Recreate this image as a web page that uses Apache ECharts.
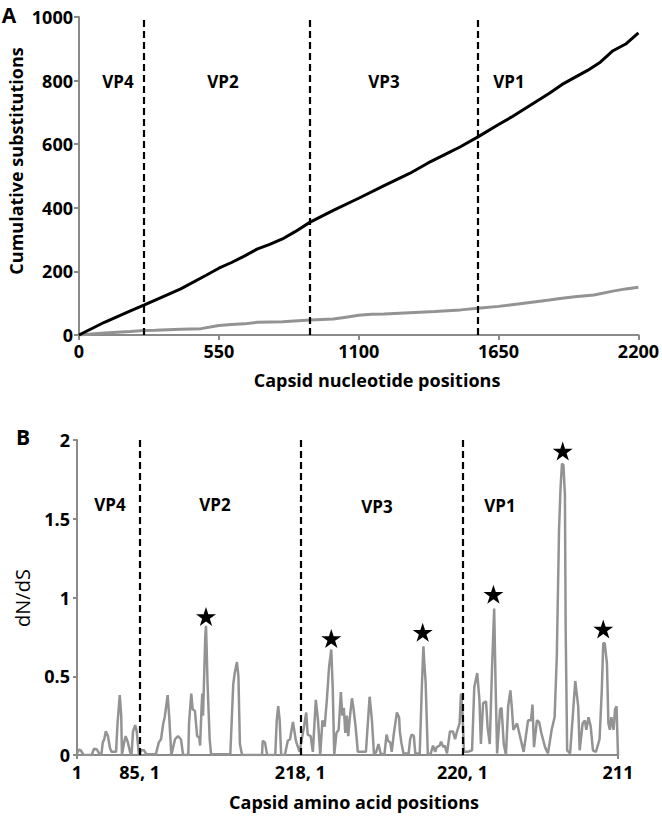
<!DOCTYPE html>
<html><head><meta charset="utf-8">
<script src="https://cdn.jsdelivr.net/npm/echarts@6/dist/echarts.min.js"></script>
<style>html,body{margin:0;padding:0;background:#fff}#c{width:662px;height:816px}</style>
</head><body><div id="c"></div>
<script>
// ---- Panel A: cumulative substitutions along capsid nucleotide positions ----
const ntTicks = [0, 550, 1100, 1650, 2200];
const ntBoundaries = [255, 909, 1569];
const ntRegionNames = ['VP4', 'VP2', 'VP3', 'VP1'];
const ntPosTotal = [0,100,200,255,300,400,500,550,600,650,700,750,800,850,909,1000,1100,1200,1300,1373,1450,1500,1569,1650,1700,1750,1800,1850,1900,1950,2000,2050,2100,2150,2200];
const totalSubs  = [0,40,75,94,110,145,188,210,228,248,270,285,302,325,355,392,430,470,508,541,572,592,623,662,685,710,735,760,788,810,832,858,894,915,950];
const ntPosNonsyn = [0,100,200,255,300,400,480,550,600,650,700,800,909,1000,1050,1100,1150,1200,1300,1400,1500,1569,1650,1750,1850,1892,1950,2025,2100,2150,2200];
const nonsynSubs  = [0,6,11,14,15,18,20,30,33,35,40,42,47,50,56,62,65,66,70,74,79,84,90,100,110,115,120,126,138,145,150];

// ---- Panel B: dN/dS along capsid amino acid positions ----
const aaTickPositions = [0, 85, 303, 523, 734];
const aaTickLabels = ['1', '85, 1', '218, 1', '220, 1', '211'];
const aaBoundaries = [85, 303, 523];
const aaPositions = [0,3,5,9,20,23,27,30,33,35,37,39,42,43,45,47,53,55,56,58,60,61,64,66,69,72,74,76,79,81,84,87,91,94,107,111,114,117,119,123,125,128,133,137,141,144,151,152,155,157,160,163,166,167,169,170,171,174,175,176,177,180,182,183,208,212,214,217,219,221,224,251,252,255,258,269,271,273,275,277,282,286,289,293,297,302,305,308,311,313,317,320,324,327,330,333,336,339,342,345,347,349,352,355,358,360,362,364,366,368,370,373,375,378,381,392,397,400,403,406,409,412,417,420,422,425,427,430,434,437,438,440,443,450,452,454,457,459,465,468,470,471,473,476,480,483,486,488,492,494,497,499,502,506,510,513,515,519,521,523,525,530,536,539,543,546,548,551,555,557,560,563,566,568,570,574,576,579,582,585,588,590,592,597,601,606,612,616,618,620,624,627,630,635,639,644,648,651,654,656,658,660,662,663,665,669,673,676,680,682,686,689,691,694,697,700,704,709,712,714,716,719,721,723,725,728,730,732,734];
const dnds = [0.01,0.035,0.03,0,0,0.04,0.035,0.01,0,0.08,0.1,0.15,0.12,0.09,0.04,0.02,0.02,0.2,0.26,0.38,0.25,0,0.08,0.12,0.08,0.02,0,0.15,0.19,0.15,0,0.03,0.03,0.005,0.005,0.08,0.1,0.2,0.24,0.38,0.25,0,0.1,0.12,0.1,0,0,0.2,0.39,0.29,0.28,0.12,0.11,0.06,0.3,0.39,0.25,0.75,0.82,0.66,0.47,0.1,0,0.005,0.005,0.45,0.52,0.59,0.5,0.07,0,0,0.09,0.08,0,0,0.22,0.31,0.22,0,0,0.09,0.1,0.21,0.09,0.02,0.1,0.18,0.27,0.13,0.12,0.02,0.35,0.22,0,0.22,0.18,0.35,0.56,0.67,0.42,0,0.14,0.16,0.4,0.25,0.3,0.14,0.25,0.12,0.23,0.36,0.3,0.18,0.02,0.02,0.37,0.23,0,0.02,0.07,0.01,0,0.13,0.09,0.08,0.02,0.14,0.27,0.24,0.15,0.08,0.01,0.01,0.1,0.13,0.12,0.01,0.01,0.45,0.69,0.6,0.46,0,0.01,0.06,0.02,0.05,0.06,0.085,0.05,0.06,0.01,0.15,0.15,0.1,0.14,0.2,0.39,0.27,0.02,0.02,0.03,0.43,0.52,0.35,0.07,0.33,0.34,0.18,0.07,0.54,0.93,0.43,0.01,0.29,0.3,0.07,0,0.31,0.41,0.3,0.16,0.2,0.12,0.02,0.22,0.22,0.32,0.05,0.22,0.21,0.14,0.05,0.01,0.16,0.24,0.63,1.43,1.69,1.85,1.84,1.65,0.8,0.03,0.01,0.27,0.47,0.31,0.03,0.2,0.22,0.16,0.24,0.18,0.03,0.02,0.1,0.41,0.71,0.71,0.58,0.2,0.16,0.24,0.16,0.29,0.31,0];
const starPositions = [175, 345, 469, 565, 659, 714];
const starValues = [0.88, 0.74, 0.78, 1.02, 1.93, 0.80];

const FONT = '"Open Sans", "Liberation Sans", sans-serif';
const axisGrey = '#8a8a8a';
const lineGrey = '#939393';
const STAR = 'path://M50,0 L61.2,34.5 L97.6,34.5 L68.2,55.9 L79.4,90.5 L50,69.1 L20.6,90.5 L31.8,55.9 L2.4,34.5 L38.8,34.5 Z';

const zip = (xs, ys) => xs.map((x, i) => [x, ys[i]]);
const dashed = {type: [7, 4], color: '#000', width: 2.2};
const tickLabel = {color: '#000', fontWeight: 'bold', fontSize: 18, fontFamily: FONT};

const chart = echarts.init(document.getElementById('c'), null, {renderer: 'svg'});

function txt(text, x, y, size, bold, rot) {
  return {type: 'text', x: x, y: y, rotation: rot || 0, silent: true,
    style: {text: text, fill: '#000', font: (bold ? 'bold ' : '') + size + 'px ' + FONT,
      textAlign: 'center', textVerticalAlign: 'middle', align: 'center', verticalAlign: 'middle'}};
}

const option = {
  animation: false,
  backgroundColor: '#fff',
  grid: [
    {left: 79, right: 19, top: 17, height: 318},
    {left: 77, right: 44, top: 440, height: 315}
  ],
  xAxis: [
    {gridIndex: 0, type: 'value', min: 0, max: 2200, interval: 550,
      axisLine: {lineStyle: {color: axisGrey, width: 2}},
      axisTick: {show: true, length: 5, lineStyle: {color: axisGrey, width: 2}},
      axisLabel: Object.assign({margin: 7, formatter: v => String(v)}, tickLabel),
      splitLine: {show: false}},
    {gridIndex: 1, type: 'value', min: 0, max: 734,
      axisLine: {lineStyle: {color: axisGrey, width: 2}},
      axisTick: {show: true, length: 4, customValues: [0, 734], lineStyle: {color: axisGrey, width: 2}},
      axisLabel: Object.assign({margin: 8, customValues: aaTickPositions,
        formatter: v => aaTickLabels[aaTickPositions.indexOf(v)]}, tickLabel),
      splitLine: {show: false}}
  ],
  yAxis: [
    {gridIndex: 0, type: 'value', min: 0, max: 1000, interval: 200,
      axisLine: {show: true, lineStyle: {color: axisGrey, width: 2}},
      axisTick: {show: true, length: 5, lineStyle: {color: axisGrey, width: 2}},
      axisLabel: Object.assign({margin: 6, formatter: v => String(v)}, tickLabel),
      splitLine: {show: false}},
    {gridIndex: 1, type: 'value', min: 0, max: 2, interval: 0.5,
      axisLine: {show: true, lineStyle: {color: axisGrey, width: 2}},
      axisTick: {show: true, length: 4, lineStyle: {color: axisGrey, width: 2}},
      axisLabel: Object.assign({margin: 7, formatter: v => String(v)}, tickLabel),
      splitLine: {show: false}}
  ],
  series: [
    {name: 'Total substitutions', type: 'line', xAxisIndex: 0, yAxisIndex: 0,
      data: zip(ntPosTotal, totalSubs), showSymbol: false, symbol: 'none',
      lineStyle: {color: '#000', width: 3}, z: 3,
      markLine: {silent: true, symbol: ['none', 'none'], label: {show: false},
        lineStyle: dashed, data: ntBoundaries.map(v => ({xAxis: v}))}},
    {name: 'Non-synonymous substitutions', type: 'line', xAxisIndex: 0, yAxisIndex: 0,
      data: zip(ntPosNonsyn, nonsynSubs), showSymbol: false, symbol: 'none',
      lineStyle: {color: lineGrey, width: 3}, z: 2},
    {name: 'dN/dS', type: 'line', xAxisIndex: 1, yAxisIndex: 1,
      data: zip(aaPositions, dnds), showSymbol: false, symbol: 'none',
      lineStyle: {color: lineGrey, width: 2.5}, z: 2,
      markLine: {silent: true, symbol: ['none', 'none'], label: {show: false},
        lineStyle: dashed, data: aaBoundaries.map(v => ({xAxis: v}))}},
    {name: 'Positive selection', type: 'scatter', xAxisIndex: 1, yAxisIndex: 1,
      data: zip(starPositions, starValues), symbol: STAR, symbolSize: [20, 19],
      itemStyle: {color: '#000', opacity: 1}, z: 4}
  ],
  graphic: [
    txt('A', 9, 15, 21, true),
    txt('B', 23, 437, 21, true),
    txt(ntRegionNames[0], 118, 81, 17, true),
    txt(ntRegionNames[1], 223, 81, 17, true),
    txt(ntRegionNames[2], 384, 81, 17, true),
    txt(ntRegionNames[3], 509, 81, 17, true),
    txt(ntRegionNames[0], 110, 504, 17, true),
    txt(ntRegionNames[1], 215, 504, 17, true),
    txt(ntRegionNames[2], 377, 506, 17, true),
    txt(ntRegionNames[3], 500, 505, 17, true),
    txt('Cumulative substitutions', 16, 161, 18, true, Math.PI / 2),
    txt('Capsid nucleotide positions', 377, 380, 18, true),
    txt('dN/dS', 22, 598, 20, false, Math.PI / 2),
    txt('Capsid amino acid positions', 354, 802, 18, true)
  ]
};
chart.setOption(option);
</script>
</body></html>
